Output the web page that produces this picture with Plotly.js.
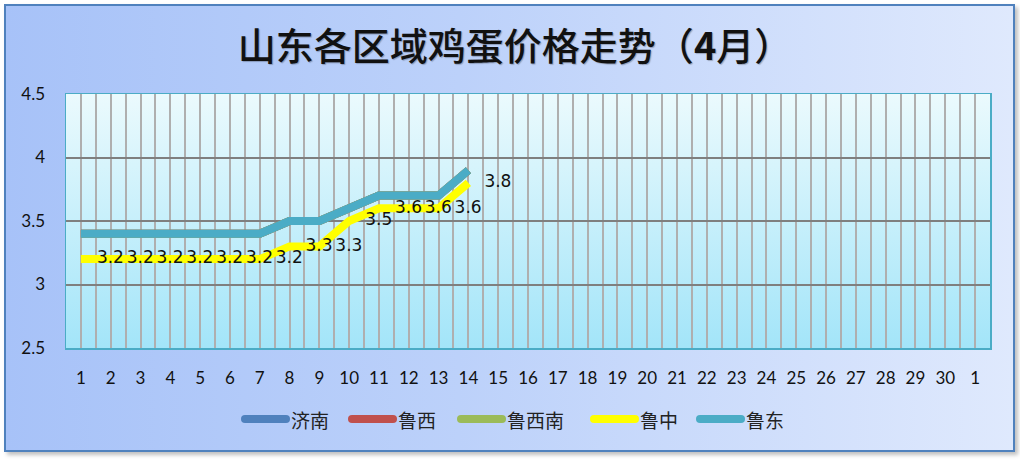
<!DOCTYPE html>
<html>
<head>
<meta charset="utf-8">
<script src="https://cdn.plot.ly/plotly-3.0.1.min.js"></script>
<style>
  html, body { margin: 0; padding: 0; background: #ffffff; }
  #wrap { position: relative; width: 1020px; height: 460px; overflow: hidden; }
  #frame {
    position: absolute; left: 4px; top: 4px; width: 1007px; height: 444px;
    border: 2px solid #4f81bd;
    background: linear-gradient(to right, #a7c2f8 0%, #bcd1fa 45%, #dfe9fd 100%);
    box-shadow: 3px 3px 4px rgba(0,0,0,0.25);
  }
  #chart { position: absolute; left: 0; top: 0; width: 1020px; height: 460px; }
  #chart .shapelayer path { stroke-linecap: round; }
  #chart .gtitle { text-shadow: 1px 1px 1px rgba(0,0,0,0.25); }
</style>
</head>
<body>
<div id="wrap">
  <div id="frame"></div>
  <div id="chart"></div>
</div>
<script>
// ---- data ----
var days = ['1','2','3','4','5','6','7','8','9','10','11','12','13','14','15','16','17','18','19','20','21','22','23','24','25','26','27','28','29','30','1'];
var seriesNames = ['济南', '鲁西', '鲁西南', '鲁中', '鲁东'];
var jinan   = [3.4,3.4,3.4,3.4,3.4,3.4,3.4,3.5,3.5,3.6,3.7,3.7,3.7,3.9];
var luxi    = [3.4,3.4,3.4,3.4,3.4,3.4,3.4,3.5,3.5,3.6,3.7,3.7,3.7,3.9];
var luxinan = [3.4,3.4,3.4,3.4,3.4,3.4,3.4,3.5,3.5,3.6,3.7,3.7,3.7,3.9];
var luzhong = [3.2,3.2,3.2,3.2,3.2,3.2,3.2,3.3,3.3,3.5,3.6,3.6,3.6,3.8];
var ludong  = [3.4,3.4,3.4,3.4,3.4,3.4,3.4,3.5,3.5,3.6,3.7,3.7,3.7,3.9];
var yTicks = [2.5, 3, 3.5, 4, 4.5];
var yTickText = ['2.5', '3', '3.5', '4', '4.5'];

var colors = ['#4f81bd', '#c0504d', '#9bbb59', '#ffff00', '#4bacc6'];
var seriesData = [jinan, luxi, luxinan, luzhong, ludong];

var idx = days.map(function (d, i) { return i; });
var half = [];
for (var h = 0; h <= days.length; h++) half.push(h - 0.5);

var traces = seriesNames.map(function (name, k) {
  var vals = seriesData[k];
  var t = {
    type: 'scatter',
    name: name,
    x: idx.slice(0, vals.length),
    y: vals,
    mode: 'lines',
    line: { color: colors[k], width: 8 },
    hoverinfo: 'skip',
    showlegend: false
  };
  if (name === '鲁中') {
    t.mode = 'lines+markers+text';
    t.marker = { size: 24, color: 'rgba(0,0,0,0)' };
    t.text = vals.map(function (v) { return String(v); });
    t.textposition = 'middle right';
    t.textfont = { family: 'DejaVu Sans', size: 17, color: '#111111' };
  }
  return t;
});
// draw order: hidden series first, 鲁东 then 鲁中 on top
var order = [0, 1, 2, 4, 3];
var drawTraces = order.map(function (i) { return traces[i]; });

// ---- manual legend (pixel layout -> paper coords) ----
var M = { l: 66, r: 30, t: 94, b: 112 };
var PW = 1020 - M.l - M.r, PH = 460 - M.t - M.b;
function px(x) { return (x - M.l) / PW; }
function py(y) { return (460 - M.b - y) / PH; }
var legendLineX = [245, 352, 461, 594, 700];
var legendY = 419;
var shapes = [], annotations = [];
seriesNames.forEach(function (name, k) {
  var x0 = legendLineX[k];
  shapes.push({
    type: 'line', xref: 'paper', yref: 'paper',
    x0: px(x0), x1: px(x0 + 41), y0: py(legendY), y1: py(legendY),
    line: { color: colors[k], width: 8 }
  });
  annotations.push({
    xref: 'paper', yref: 'paper', x: px(x0 + 44), y: py(legendY),
    xanchor: 'left', yanchor: 'middle', showarrow: false, text: name,
    font: { family: 'Noto Sans CJK SC', size: 19, color: '#222222' }
  });
});

var gradSvg = '<svg xmlns="http://www.w3.org/2000/svg" width="100" height="100" preserveAspectRatio="none">' +
  '<defs><linearGradient id="g" x1="0" y1="0" x2="0" y2="1">' +
  '<stop offset="0" stop-color="#ebfafd"/><stop offset="1" stop-color="#a3e5f9"/>' +
  '</linearGradient></defs><rect width="100" height="100" fill="url(#g)"/></svg>';
var gradUri = 'data:image/svg+xml;base64,' + btoa(gradSvg);

var layout = {
  width: 1020, height: 460,
  paper_bgcolor: 'rgba(0,0,0,0)',
  plot_bgcolor: 'rgba(0,0,0,0)',
  margin: M,
  title: {
    text: '山东各区域鸡蛋价格走势（<b>4</b>月）',
    font: { family: 'Noto Sans CJK SC', size: 38, color: '#111111', weight: 500 },
    x: 0.505, xanchor: 'center', y: 0.898, yanchor: 'middle'
  },
  xaxis: {
    range: [-0.5, days.length - 0.5],
    tickvals: idx,
    ticktext: days,
    showgrid: true, gridcolor: '#afafaf', gridwidth: 2,
    minor: { tickvals: half, showgrid: true, gridcolor: '#afafaf', gridwidth: 2, ticks: '' },
    ticks: 'outside', ticklen: 14, tickcolor: 'rgba(0,0,0,0)',
    tickfont: { family: 'Lato', size: 17, color: '#111111' },
    zeroline: false,
    showline: true, linecolor: '#4bacc6', linewidth: 1.5, mirror: true,
    fixedrange: true
  },
  yaxis: {
    range: [2.5, 4.5],
    tickvals: yTicks, ticktext: yTickText,
    showgrid: true, gridcolor: '#7f7f7f', gridwidth: 2,
    ticks: 'outside', ticklen: 16, tickcolor: 'rgba(0,0,0,0)',
    tickfont: { family: 'Lato', size: 17, color: '#111111' },
    zeroline: false,
    showline: true, linecolor: '#4bacc6', linewidth: 1.5, mirror: true,
    fixedrange: true
  },
  shapes: shapes,
  annotations: annotations,
  images: [{
    source: gradUri, xref: 'paper', yref: 'paper', x: 0, y: 1, sizex: 1, sizey: 1,
    sizing: 'stretch', xanchor: 'left', yanchor: 'top', layer: 'below'
  }],
  showlegend: false
};

Plotly.newPlot('chart', drawTraces, layout, { displayModeBar: false, staticPlot: true });
</script>
</body>
</html>
